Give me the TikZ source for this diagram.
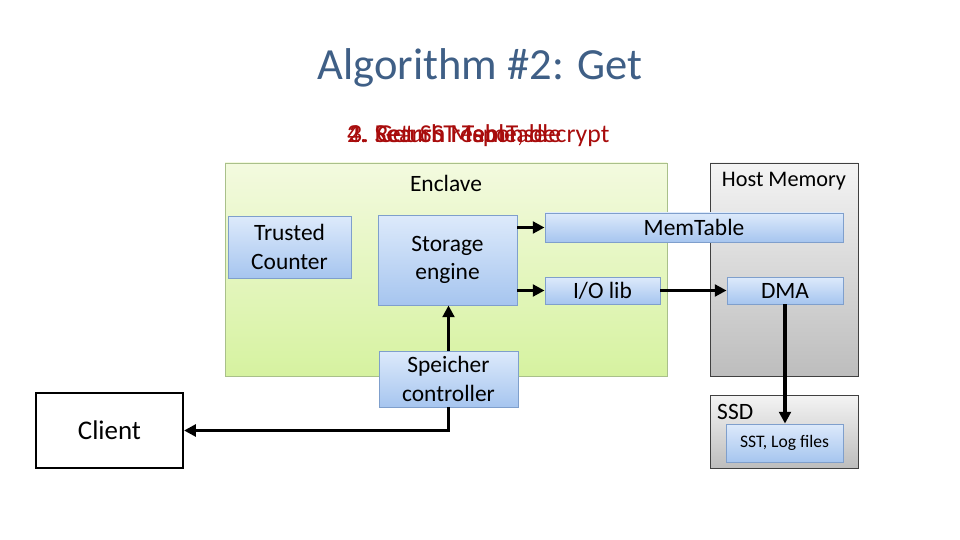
\documentclass[tikz,border=0pt]{standalone}
\usepackage{fontspec}
\setmainfont{Carlito}
\usepackage{xcolor}
\usetikzlibrary{arrows.meta, positioning}
\definecolor{titleblue}{HTML}{3F5F86}
\definecolor{stepred}{HTML}{A80C0C}
\definecolor{unittop}{HTML}{DDEAFB}
\definecolor{unitbot}{HTML}{A6C5EF}
\definecolor{unitedge}{HTML}{7F9FCC}
\definecolor{enctop}{HTML}{F3FADF}
\definecolor{encbot}{HTML}{D6F2A0}
\definecolor{encedge}{HTML}{A9C08A}
\definecolor{hosttop}{HTML}{F4F4F4}
\definecolor{hostbot}{HTML}{BDBDBD}
\tikzset{
  boxsize/.style 2 args={minimum width=#1*0.03cm, minimum height=#2*0.03cm},
  unit/.style={draw=unitedge, line width=0.8pt, top color=unittop, bottom color=unitbot,
    inner sep=0pt, align=center, font=\fontsize{20}{24.5}\selectfont},
  region/.style={draw=encedge, line width=0.8pt, top color=enctop, bottom color=encbot, inner sep=0pt},
  hostbox/.style={draw=black!75, line width=0.8pt, top color=hosttop, bottom color=hostbot, inner sep=0pt},
  boxlabel/.style={font=\fontsize{20}{24}\selectfont, inner sep=0pt},
  steptext/.style={anchor=base west, text=stepred, inner sep=0pt, font=\fontsize{22}{26}\selectfont},
  link/.style={-{Triangle[length=10pt,width=10pt]}, line width=3.4pt}
}

\begin{document}
\begin{tikzpicture}[x=0.03cm, y=-0.03cm]
  \useasboundingbox (0,0) rectangle (960,540);

  \node[font=\fontsize{38}{44}\selectfont, text=titleblue] (title) at (480,68) {Algorithm \#2: Get};

  % overlapping step captions
  \node[steptext] (stepa) at (347,143) {2. Search MemTable};
  \node[steptext] (stepb) at (347,143) {4. Return response};
  \node[steptext] (stepc) at (349,143) {3. Get SST Table, decrypt};

  % regions
  \node[region, boxsize={442}{213}] (enclave) at (446,269.5) {};
  \node[boxlabel] (enclavelbl) at (446,183) {Enclave};
  \node[hostbox, boxsize={148}{213}] (host) at (784,269.5) {};
  \node[boxlabel, font=\fontsize{19}{23}\selectfont] (hostlbl) at (784,181) {Host Memory};
  \node[hostbox, boxsize={148}{73}] (ssd) at (784,431.5) {};
  \node[boxlabel, anchor=west] (ssdlbl) at (717,412) {SSD};

  % components
  \node[unit, boxsize={123}{62}] (counter) at (289.5,247) {Trusted\\Counter};
  \node[unit, boxsize={139}{90}] (storage) at (447.5,260) {Storage\\engine};
  \node[unit, boxsize={298}{29}] (memtable) at (694,227.5) {MemTable};
  \node[unit, boxsize={115}{27}] (iolib) at (602.5,290.5) {I/O lib};
  \node[unit, boxsize={116}{27}] (dma) at (785,290.5) {DMA};
  \node[unit, boxsize={139}{56}] (speicher) at (448.5,379) {Speicher\\controller};
  \node[unit, boxsize={117}{38}, font=\fontsize{15}{18}\selectfont] (sst) at (784.5,443) {SST, Log files};
  \node[draw=black, line width=1.8pt, fill=white, boxsize={147}{75}, inner sep=0pt,
    font=\fontsize{23}{27}\selectfont] (client) at (109.5,430.5) {Client};

  % data flow
  \draw[link] (memtable.west -| storage.east) -- (memtable.west);
  \draw[link] (iolib.west -| storage.east) -- (iolib.west);
  \draw[link] (speicher.north) -- (speicher.north |- storage.south);
  \draw[link] (iolib) -- (dma);
  \draw[link] (dma.south) -- (dma.south |- sst.north);
  \draw[link] (speicher.south) |- (client.east);
\end{tikzpicture}
\end{document}
